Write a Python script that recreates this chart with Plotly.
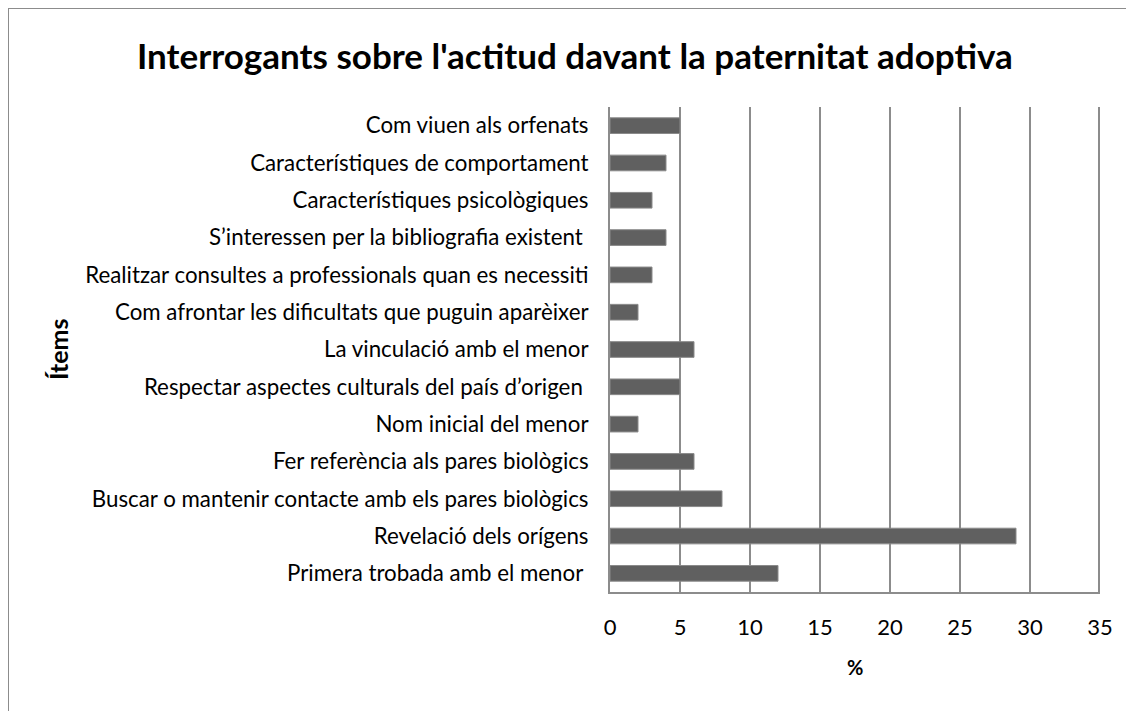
import plotly.graph_objects as go

categories = [
    "Primera trobada amb el menor ",
    "Revelació dels orígens",
    "Buscar o mantenir contacte amb els pares biològics",
    "Fer referència als pares biològics",
    "Nom inicial del menor",
    "Respectar aspectes culturals del país d’origen ",
    "La vinculació amb el menor",
    "Com afrontar les dificultats que puguin aparèixer",
    "Realitzar consultes a professionals quan es necessiti",
    "S’interessen per la bibliografia existent ",
    "Característiques psicològiques",
    "Característiques de comportament",
    "Com viuen als orfenats",
]
values = [12, 29, 8, 6, 2, 5, 6, 2, 3, 4, 3, 4, 5]
x_ticks = [0, 5, 10, 15, 20, 25, 30, 35]

title_text = "Interrogants sobre l'actitud davant la paternitat adoptiva"
x_title = "%"
y_title = "Ítems"

OFF = 8  # page body margin
W, H = 1134 - OFF, 711 - OFF
L, R, T, B = 610 - OFF, 1100 - OFF, 107 - OFF, 592 - OFF

def px(x):
    return (x - OFF - L) / (R - L)

def py(y):
    return (B - (y - OFF)) / (B - T)

FONT = "Lato"

fig = go.Figure()
fig.add_trace(go.Bar(
    y=categories, x=values, orientation="h",
    marker=dict(color="#606060", line=dict(color="#8a8a8a", width=1)),
    width=0.42,
))

fig.update_layout(
    width=W, height=H,
    margin=dict(l=L, r=W - R, t=T, b=H - B, pad=0),
    paper_bgcolor="white", plot_bgcolor="white",
    showlegend=False,
    font=dict(family=FONT, color="#000000", size=17),
    xaxis=dict(
        range=[0, 35], tickvals=x_ticks, showgrid=True,
        gridcolor="#8c8c8c", gridwidth=2, showline=True,
        linecolor="#8c8c8c", linewidth=2, mirror=False,
        zeroline=False, ticks="", tickfont=dict(size=22, family=FONT),
        ticklabelstandoff=15, fixedrange=True,
    ),
    yaxis=dict(
        categoryorder="array", categoryarray=categories,
        showgrid=False, showline=True, linecolor="#8c8c8c", linewidth=2,
        ticks="", tickfont=dict(size=22.3, family=FONT),
        ticklabelstandoff=15, fixedrange=True,
        range=[-0.5, len(categories) - 0.5],
    ),
    shapes=[
        dict(type="line", xref="paper", yref="paper",
             x0=px(1099), x1=px(1099), y0=py(107), y1=py(592),
             line=dict(color="#8c8c8c", width=2), layer="below"),
        dict(type="rect", xref="paper", yref="paper",
             x0=px(8), x1=px(1200), y0=py(8), y1=py(800),
             line=dict(color="#8c8c8c", width=2), fillcolor="rgba(0,0,0,0)"),
    ],
    annotations=[
        dict(text="<b>" + title_text + "</b>", xref="paper", yref="paper",
             x=px(575), y=py(55), xanchor="center", yanchor="middle",
             showarrow=False, font=dict(size=35, family=FONT, color="#000")),
        dict(text="<b>" + x_title + "</b>", xref="paper", yref="paper",
             x=px(855), y=py(667), xanchor="center", yanchor="middle",
             showarrow=False, font=dict(size=20, family=FONT, color="#000")),
        dict(text="<b>" + y_title + "</b>", xref="paper", yref="paper",
             x=px(58), y=py(349), xanchor="center", yanchor="middle",
             textangle=-90, showarrow=False,
             font=dict(size=25, family=FONT, color="#000")),
    ],
)

fig.write_html("out.html")
